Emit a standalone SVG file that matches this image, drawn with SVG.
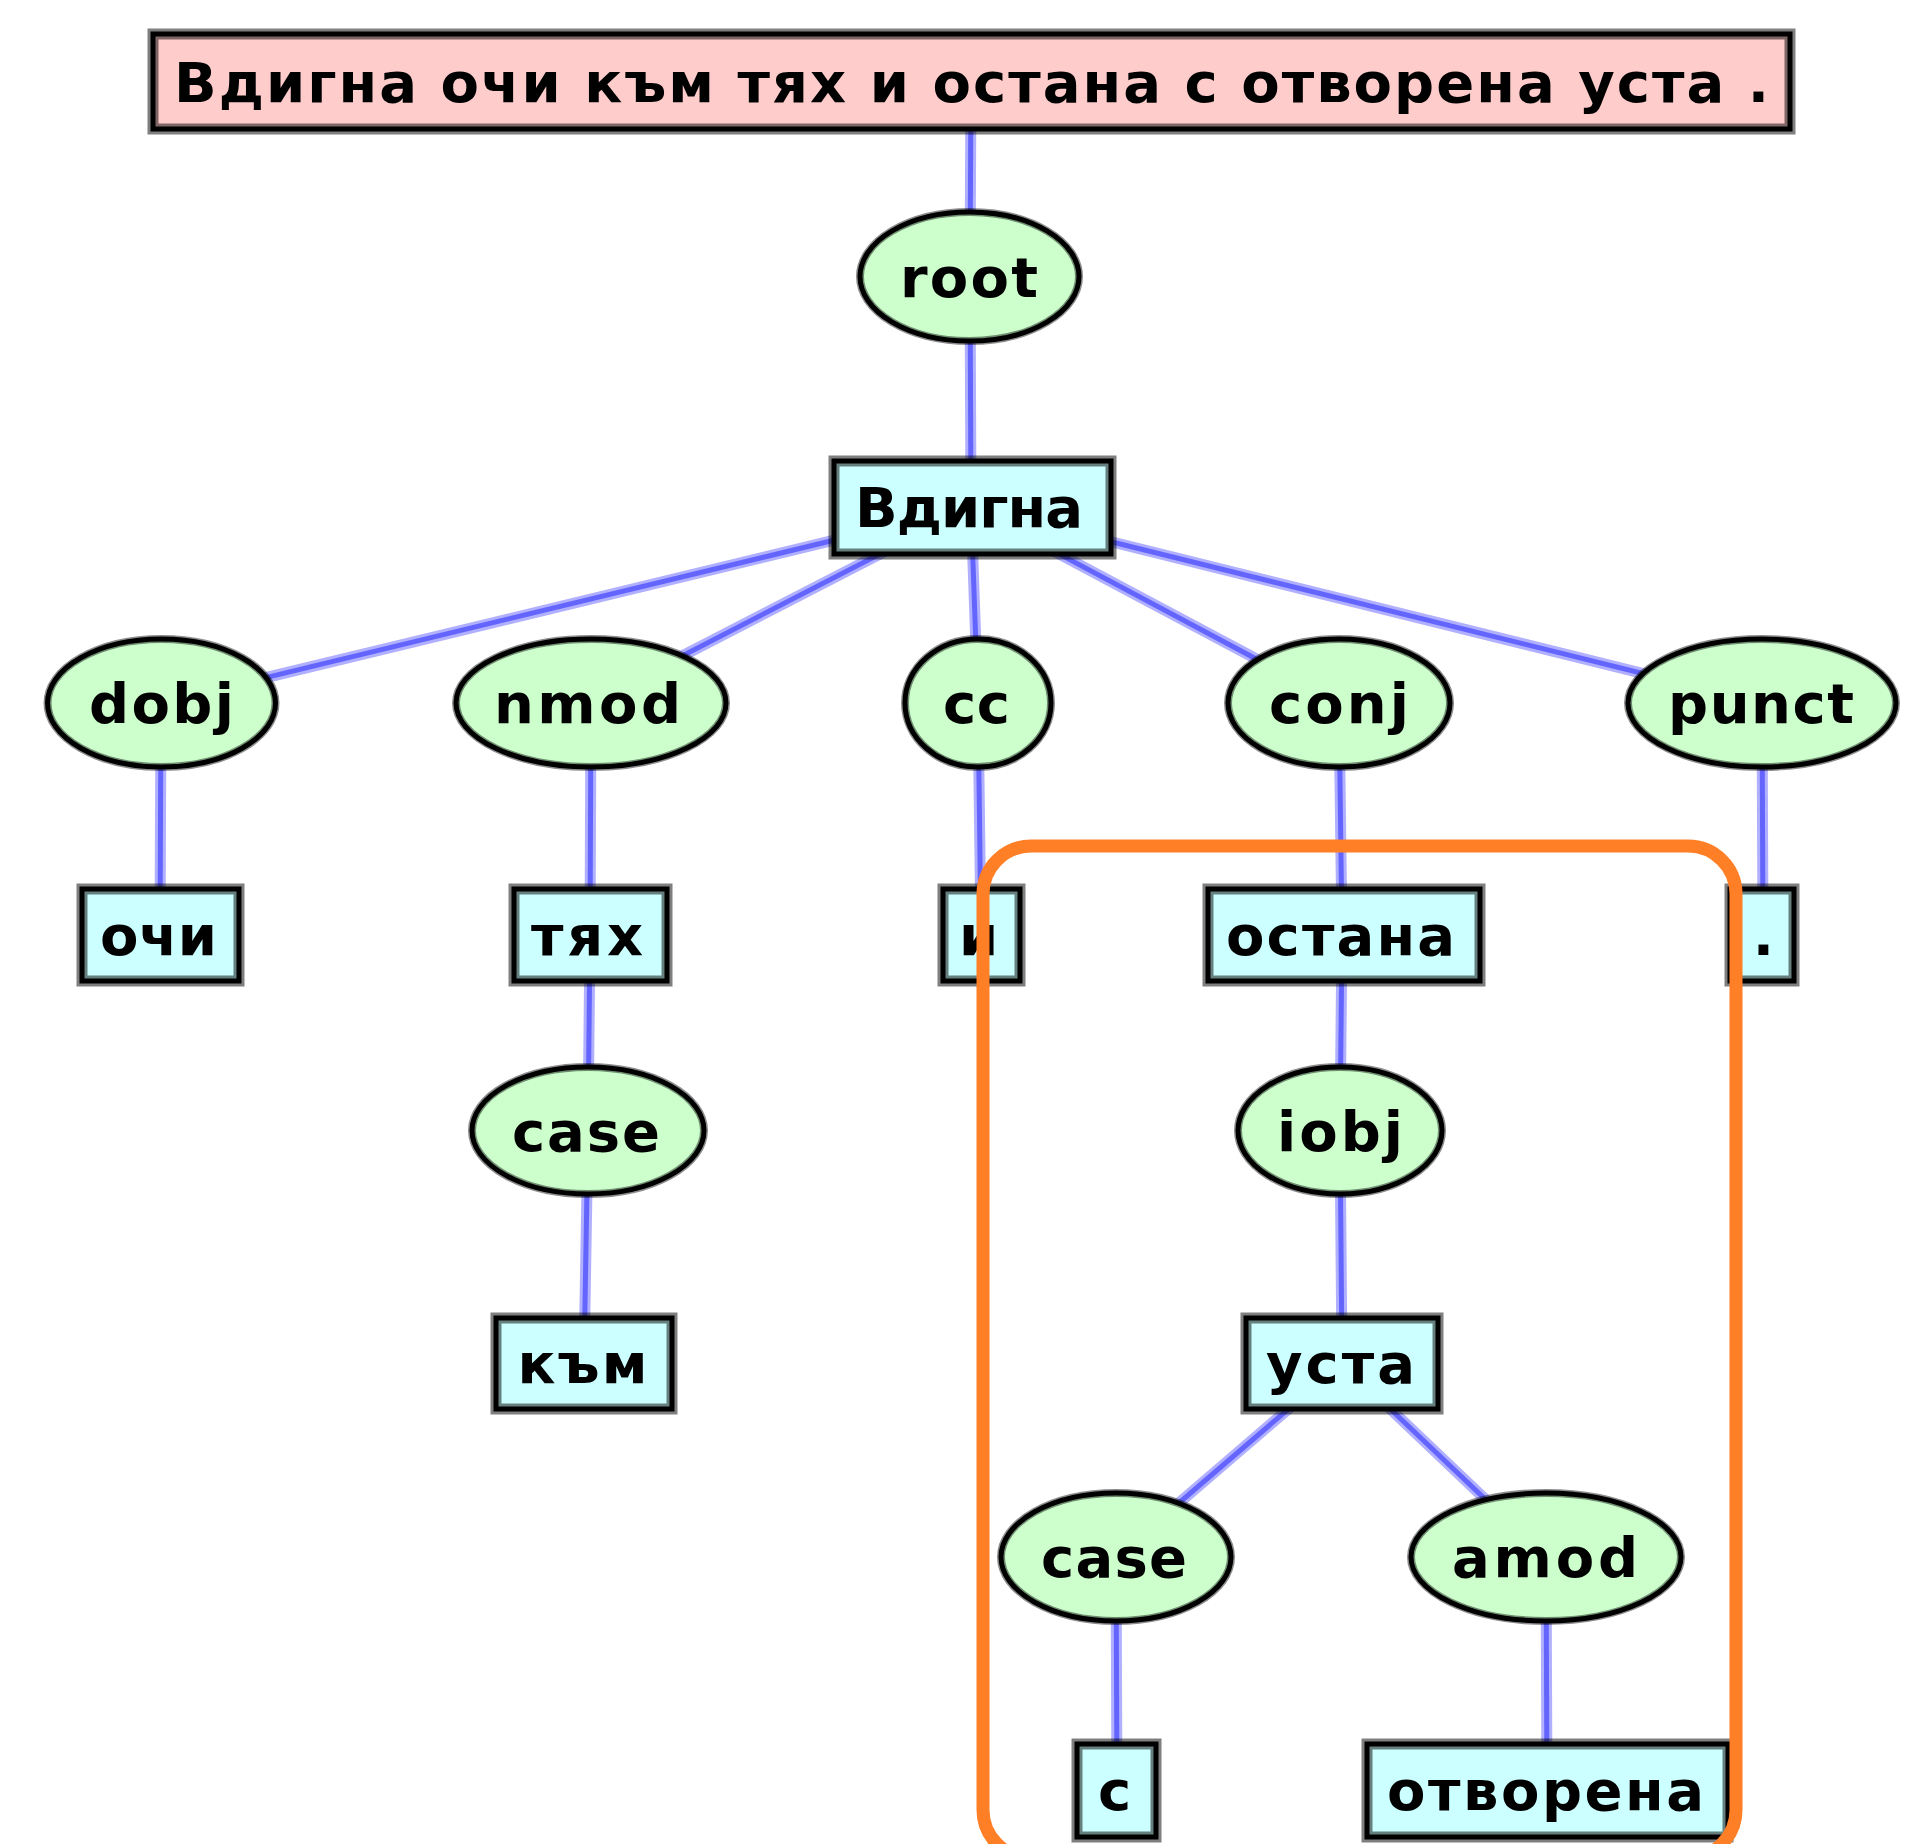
<svg xmlns="http://www.w3.org/2000/svg" width="1913" height="1844" viewBox="0 0 1913 1844">
<style>
.halo{stroke:#b0b0ff;stroke-width:11;fill:none}
.core{stroke:#6464ff;stroke-width:5;fill:none}
.sent{fill:#ffcccc}
.word{fill:#ccffff}
.rel{fill:#ccffcc}
.bh{fill:none;stroke:rgba(0,0,0,0.5);stroke-width:11}
.bk{fill:none;stroke:#000;stroke-width:5}
.eh{fill:none;stroke:rgba(0,0,0,0.45);stroke-width:8}
text{font-family:"DejaVu Sans","Liberation Sans",sans-serif;font-weight:bold;font-size:56px;fill:#000;text-anchor:middle}
.hl{fill:none;stroke:#ff7f27;stroke-width:13}
</style>
<rect width="1913" height="1844" fill="#fff"/>
<g id="connectors">
<g class="halo">
<line x1="971" y1="81" x2="970" y2="276"/>
<line x1="970" y1="276" x2="971" y2="507"/>
<line x1="971" y1="507" x2="161" y2="703"/>
<line x1="971" y1="507" x2="591" y2="703"/>
<line x1="971" y1="507" x2="978" y2="703"/>
<line x1="971" y1="507" x2="1339" y2="703"/>
<line x1="971" y1="507" x2="1762" y2="703"/>
<line x1="161" y1="703" x2="160" y2="935"/>
<line x1="591" y1="703" x2="590" y2="935"/>
<line x1="590" y1="935" x2="588" y2="1130"/>
<line x1="588" y1="1130" x2="584" y2="1363"/>
<line x1="978" y1="703" x2="981" y2="935"/>
<line x1="1339" y1="703" x2="1342" y2="935"/>
<line x1="1762" y1="703" x2="1763" y2="935"/>
<line x1="1342" y1="935" x2="1340" y2="1130"/>
<line x1="1340" y1="1130" x2="1342" y2="1363"/>
<line x1="1342" y1="1363" x2="1116" y2="1557"/>
<line x1="1342" y1="1363" x2="1546" y2="1557"/>
<line x1="1116" y1="1557" x2="1117" y2="1790"/>
<line x1="1546" y1="1557" x2="1547" y2="1790"/>
</g>
<g class="core">
<line x1="971" y1="81" x2="970" y2="276"/>
<line x1="970" y1="276" x2="971" y2="507"/>
<line x1="971" y1="507" x2="161" y2="703"/>
<line x1="971" y1="507" x2="591" y2="703"/>
<line x1="971" y1="507" x2="978" y2="703"/>
<line x1="971" y1="507" x2="1339" y2="703"/>
<line x1="971" y1="507" x2="1762" y2="703"/>
<line x1="161" y1="703" x2="160" y2="935"/>
<line x1="591" y1="703" x2="590" y2="935"/>
<line x1="590" y1="935" x2="588" y2="1130"/>
<line x1="588" y1="1130" x2="584" y2="1363"/>
<line x1="978" y1="703" x2="981" y2="935"/>
<line x1="1339" y1="703" x2="1342" y2="935"/>
<line x1="1762" y1="703" x2="1763" y2="935"/>
<line x1="1342" y1="935" x2="1340" y2="1130"/>
<line x1="1340" y1="1130" x2="1342" y2="1363"/>
<line x1="1342" y1="1363" x2="1116" y2="1557"/>
<line x1="1342" y1="1363" x2="1546" y2="1557"/>
<line x1="1116" y1="1557" x2="1117" y2="1790"/>
<line x1="1546" y1="1557" x2="1547" y2="1790"/>
</g>
</g>
<g id="sentence"><rect class="sent" x="153" y="34" width="1637" height="95"/><rect class="bh" x="153" y="34" width="1637" height="95"/><rect class="bk" x="153" y="34" width="1637" height="95"/><text x="971.5" y="102" textLength="1595">Вдигна очи към тях и остана с отворена уста .</text></g>
<g id="n-root"><ellipse class="rel" cx="969.5" cy="276.5" rx="109.5" ry="64.5"/><ellipse class="eh" cx="969.5" cy="276.5" rx="109.5" ry="64.5"/><ellipse class="bk" cx="969.5" cy="276.5" rx="109.5" ry="64.5"/><text x="969" y="297" textLength="138">root</text></g>
<g id="w-vdigna"><rect class="word" x="834" y="461" width="277" height="93"/><rect class="bh" x="834" y="461" width="277" height="93"/><rect class="bk" x="834" y="461" width="277" height="93"/><text x="969" y="527" textLength="228">Вдигна</text></g>
<g id="n-dobj"><ellipse class="rel" cx="161.5" cy="703" rx="114" ry="64"/><ellipse class="eh" cx="161.5" cy="703" rx="114" ry="64"/><ellipse class="bk" cx="161.5" cy="703" rx="114" ry="64"/><text x="161.5" y="723" textLength="145">dobj</text></g>
<g id="n-nmod"><ellipse class="rel" cx="591" cy="703" rx="135" ry="64"/><ellipse class="eh" cx="591" cy="703" rx="135" ry="64"/><ellipse class="bk" cx="591" cy="703" rx="135" ry="64"/><text x="587.5" y="723" textLength="187">nmod</text></g>
<g id="n-cc"><ellipse class="rel" cx="978" cy="703" rx="73" ry="64"/><ellipse class="eh" cx="978" cy="703" rx="73" ry="64"/><ellipse class="bk" cx="978" cy="703" rx="73" ry="64"/><text x="976.5" y="723" textLength="67">cc</text></g>
<g id="n-conj"><ellipse class="rel" cx="1339" cy="703" rx="111" ry="64"/><ellipse class="eh" cx="1339" cy="703" rx="111" ry="64"/><ellipse class="bk" cx="1339" cy="703" rx="111" ry="64"/><text x="1339" y="723" textLength="140">conj</text></g>
<g id="n-punct"><ellipse class="rel" cx="1762" cy="703" rx="134" ry="64"/><ellipse class="eh" cx="1762" cy="703" rx="134" ry="64"/><ellipse class="bk" cx="1762" cy="703" rx="134" ry="64"/><text x="1761" y="723" textLength="186">punct</text></g>
<g id="w-ochi"><rect class="word" x="82" y="889" width="157" height="92"/><rect class="bh" x="82" y="889" width="157" height="92"/><rect class="bk" x="82" y="889" width="157" height="92"/><text x="158.5" y="955" textLength="117">очи</text></g>
<g id="w-tyah"><rect class="word" x="514" y="889" width="153" height="92"/><rect class="bh" x="514" y="889" width="153" height="92"/><rect class="bk" x="514" y="889" width="153" height="92"/><text x="587" y="955" textLength="112">тях</text></g>
<g id="w-i"><rect class="word" x="943" y="889" width="77" height="92"/><rect class="bh" x="943" y="889" width="77" height="92"/><rect class="bk" x="943" y="889" width="77" height="92"/><text x="978.5" y="955">и</text></g>
<g id="w-ostana"><rect class="word" x="1208" y="889" width="272" height="92"/><rect class="bh" x="1208" y="889" width="272" height="92"/><rect class="bk" x="1208" y="889" width="272" height="92"/><text x="1340.5" y="955" textLength="229">остана</text></g>
<g id="w-dot"><rect class="word" x="1730" y="889" width="64" height="92"/><rect class="bh" x="1730" y="889" width="64" height="92"/><rect class="bk" x="1730" y="889" width="64" height="92"/><text x="1763.5" y="955">.</text></g>
<g id="n-case1"><ellipse class="rel" cx="588" cy="1130.5" rx="116" ry="63.5"/><ellipse class="eh" cx="588" cy="1130.5" rx="116" ry="63.5"/><ellipse class="bk" cx="588" cy="1130.5" rx="116" ry="63.5"/><text x="586" y="1151" textLength="148">case</text></g>
<g id="n-iobj"><ellipse class="rel" cx="1340" cy="1130.5" rx="102" ry="63.5"/><ellipse class="eh" cx="1340" cy="1130.5" rx="102" ry="63.5"/><ellipse class="bk" cx="1340" cy="1130.5" rx="102" ry="63.5"/><text x="1340" y="1151" textLength="126">iobj</text></g>
<g id="w-kam"><rect class="word" x="496" y="1318" width="176" height="91"/><rect class="bh" x="496" y="1318" width="176" height="91"/><rect class="bk" x="496" y="1318" width="176" height="91"/><text x="582.5" y="1383" textLength="130">към</text></g>
<g id="w-usta"><rect class="word" x="1246" y="1318" width="192" height="91"/><rect class="bh" x="1246" y="1318" width="192" height="91"/><rect class="bk" x="1246" y="1318" width="192" height="91"/><text x="1340.5" y="1383" textLength="149">уста</text></g>
<g id="n-case2"><ellipse class="rel" cx="1116" cy="1557" rx="115" ry="64"/><ellipse class="eh" cx="1116" cy="1557" rx="115" ry="64"/><ellipse class="bk" cx="1116" cy="1557" rx="115" ry="64"/><text x="1114" y="1577" textLength="146">case</text></g>
<g id="n-amod"><ellipse class="rel" cx="1546" cy="1557" rx="135" ry="64"/><ellipse class="eh" cx="1546" cy="1557" rx="135" ry="64"/><ellipse class="bk" cx="1546" cy="1557" rx="135" ry="64"/><text x="1545" y="1577" textLength="186">amod</text></g>
<g id="w-s"><rect class="word" x="1077" y="1744" width="79" height="93"/><rect class="bh" x="1077" y="1744" width="79" height="93"/><rect class="bk" x="1077" y="1744" width="79" height="93"/><text x="1114.5" y="1810">с</text></g>
<g id="w-otvorena"><rect class="word" x="1367" y="1744" width="361" height="93"/><rect class="bh" x="1367" y="1744" width="361" height="93"/><rect class="bk" x="1367" y="1744" width="361" height="93"/><text x="1545.5" y="1810" textLength="317">отворена</text></g>
<g id="highlight"><rect class="hl" x="983" y="846" width="753" height="1012" rx="48" ry="48"/></g>
</svg>
